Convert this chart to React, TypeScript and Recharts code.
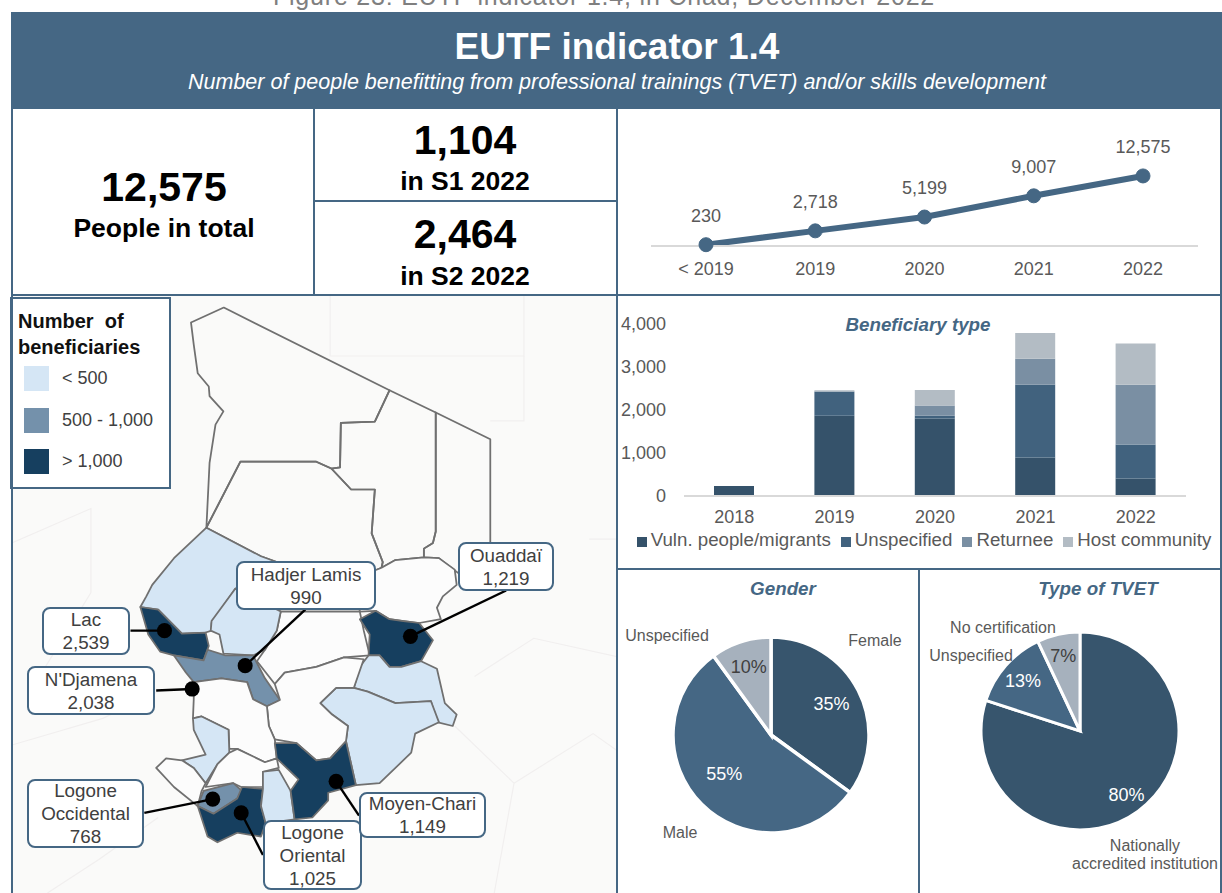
import React from "react";
import { LineChart, Line, BarChart, Bar, PieChart, Pie, Cell, XAxis, YAxis, LabelList, Legend } from "recharts";

const FONT = "'Liberation Sans', Arial, sans-serif";
const BLUE = "#456784";
const GREY = "#595959";

// cumulative line
const cumulativeYears = ["< 2019", "2019", "2020", "2021", "2022"];
const cumulativeValues = [230, 2718, 5199, 9007, 12575];

// stacked bars
const barYears = ["2018", "2019", "2020", "2021", "2022"];
const vulnerable = [235, 1867, 1804, 894, 408];
const unspecified = [0, 564, 60, 1694, 792];
const returnee = [0, 0, 238, 604, 1388];
const hostCommunity = [0, 29, 361, 596, 957];
const barTicks = [0, 1000, 2000, 3000, 4000];

// pies
const genderNames = ["Female", "Male", "Unspecified"];
const genderShares = [35, 55, 10];
const tvetNames = ["Nationally accredited institution", "Unspecified", "No certification"];
const tvetShares = [80, 13, 7];
const pieColors = ["#37556d", "#456784", "#a6b1bd"];
const pieLabelColors = ["#ffffff", "#ffffff", "#404040"];

// map legend
const mapBins = ["< 500", "500 - 1,000", "> 1,000"];
const LIGHT = "#d5e6f5";
const MID = "#7491ab";
const DARK = "#163f5f";
const PALE = "#fcfcfc";
const mapBinColors = [LIGHT, MID, DARK];

const lineData = cumulativeYears.map((year, i) => ({ year, value: cumulativeValues[i] }));
const barData = barYears.map((year, i) => ({
  year,
  vulnerable: vulnerable[i],
  unspecified: unspecified[i],
  returnee: returnee[i],
  hostCommunity: hostCommunity[i],
}));
const genderData = genderNames.map((name, i) => ({ name, value: genderShares[i] }));
const tvetData = tvetNames.map((name, i) => ({ name, value: tvetShares[i] }));

// Chad regions, drawn in a 1568-unit box scaled onto the map panel
const regions: { fill: string; d: string }[] = [
  { fill: "none", d: "566,33 985,250 948,332 862,335 860,452 838,455 800,437 608,437 522,610 530,440 545,340 565,305 530,265 528,240 500,205 490,130 483,72" },
  { fill: "none", d: "985,250 1102,308 1102,620 1095,650 1072,665 1072,688 1000,695 965,715 968,700 940,625 948,510 888,510 838,455 860,452 862,335 948,332" },
  { fill: "none", d: "1102,308 1240,378 1240,650 1200,690 1160,730 1110,690 1072,688 1072,665 1095,650 1102,620" },
  { fill: "none", d: "522,610 608,437 800,437 838,455 888,510 948,510 940,625 968,700 965,715 905,740 910,830 710,830 595,770 700,700 660,685" },
  { fill: PALE, d: "710,830 910,830 920,880 935,945 870,950 800,975 720,990 695,1020 650,960 670,930 700,880" },
  { fill: LIGHT, d: "522,610 660,685 700,700 595,770 535,860 535,880 520,885 460,888 400,825 355,818 370,790 385,760 440,690" },
  { fill: LIGHT, d: "595,770 710,830 700,880 670,930 640,945 565,940 555,890 533,880 535,855" },
  { fill: DARK, d: "355,818 400,825 460,888 520,885 528,920 515,958 440,945 405,935 375,890" },
  { fill: MID, d: "440,945 515,958 525,930 570,945 640,945 670,1005 708,1062 675,1078 640,1060 625,1015 560,1005 490,1015 470,990" },
  { fill: PALE, d: "965,715 1000,695 1072,688 1110,690 1150,720 1155,760 1120,790 1105,820 1115,850 1060,860 985,850 950,828 910,830 905,740" },
  { fill: DARK, d: "910,850 950,828 985,850 1020,855 1060,860 1095,905 1065,960 1015,975 985,975 960,945 932,945 935,890" },
  { fill: LIGHT, d: "932,945 960,945 985,975 1015,975 1065,960 1105,980 1125,1070 1155,1100 1145,1130 1105,1120 1090,1065 1000,1070 930,1040 895,1030 910,975" },
  { fill: LIGHT, d: "810,1070 850,1030 895,1030 930,1040 1000,1070 1090,1065 1110,1120 1050,1150 1040,1200 960,1280 900,1285 875,1170 880,1130 840,1100" },
  { fill: PALE, d: "695,1020 720,990 800,975 870,950 920,955 895,1030 850,1030 810,1070 840,1100 880,1130 875,1170 835,1215 800,1220 750,1175 695,1165 680,1130 675,1078 708,1062" },
  { fill: PALE, d: "490,1015 560,1005 625,1015 640,1060 675,1078 680,1130 695,1165 700,1215 670,1225 600,1190 580,1190 578,1140 510,1105 488,1110 490,1060" },
  { fill: LIGHT, d: "510,1105 578,1140 580,1200 550,1230 520,1280 490,1240 460,1220 520,1205 490,1140 488,1110" },
  { fill: PALE, d: "395,1240 420,1215 460,1220 490,1240 520,1280 510,1300 500,1340 440,1290" },
  { fill: PALE, d: "580,1200 600,1190 670,1225 700,1215 705,1240 665,1250 665,1290 610,1290 590,1280 520,1290 550,1230" },
  { fill: MID, d: "515,1300 590,1280 612,1300 600,1320 540,1360 500,1340" },
  { fill: DARK, d: "500,1340 540,1360 600,1320 612,1290 665,1295 660,1340 672,1385 660,1420 600,1410 550,1435 525,1420" },
  { fill: LIGHT, d: "665,1250 705,1245 735,1300 745,1375 672,1385 660,1340 665,1295" },
  { fill: DARK, d: "695,1175 750,1175 800,1220 835,1215 875,1170 900,1285 830,1305 830,1325 790,1370 745,1375 735,1300 755,1270 700,1215" },
];

// faint neighbouring borders on the base map
const baseLines = [
  "835,0 835,160 1325,160 1325,0",
  "1240,330 1325,330 1325,160",
  "30,650 230,560 230,780 100,1000",
  "30,1180 260,1110 400,1040",
  "400,1370 250,1480 120,1568",
  "1490,640 1568,640",
  "1200,1000 1350,900 1568,950",
  "1150,1130 1300,1280 1250,1568",
  "1300,1280 1500,1150 1568,1200",
];

// callouts: box in page pixels, dot and leader end in the map's 1568 box
const callouts = [
  { lines: ["Lac", "2,539"], left: 42, top: 607, width: 88, height: 48, dot: [416, 880], end: [330, 880] },
  { lines: ["N'Djamena", "2,038"], left: 27, top: 666, width: 128, height: 49, dot: [486, 1033], end: [395, 1037] },
  { lines: ["Hadjer Lamis", "990"], left: 236, top: 561, width: 140, height: 49, dot: [620, 972], end: [772, 825] },
  { lines: ["Ouaddaï", "1,219"], left: 458, top: 542, width: 96, height: 49, dot: [1038, 895], end: [1280, 775] },
  { lines: ["Logone", "Occidental", "768"], left: 27, top: 779, width: 117, height: 69, dot: [538, 1322], end: [365, 1358] },
  { lines: ["Logone", "Oriental", "1,025"], left: 263, top: 820, width: 99, height: 70, dot: [610, 1358], end: [665, 1468] },
  { lines: ["Moyen-Chari", "1,149"], left: 359, top: 792, width: 127, height: 46, dot: [850, 1275], end: [908, 1365] },
];

const Txt = ({ x, y, size = 18, color = GREY, weight = 400, italic = false, children }: any) => (
  <div
    style={{
      position: "absolute",
      left: x - 600,
      top: y - size,
      width: 1200,
      height: size * 2,
      lineHeight: `${size * 2}px`,
      textAlign: "center",
      fontSize: size,
      color,
      fontWeight: weight,
      fontStyle: italic ? "italic" : "normal",
      whiteSpace: "nowrap",
    }}
  >
    {children}
  </div>
);

const Rule = ({ left, top, width, height }: any) => (
  <div style={{ position: "absolute", left, top, width, height, background: BLUE }} />
);

// percentage inside a slice, radius read per slice from the reference
const pieLabel = (radii: number[], nudgeY: number[] = [0, 0, 0]) => (props: any) => {
  const { cx, cy, midAngle, index, value } = props;
  const a = (midAngle * Math.PI) / 180;
  return (
    <text
      x={cx + radii[index] * Math.cos(a)}
      y={cy - radii[index] * Math.sin(a) + nudgeY[index]}
      fill={pieLabelColors[index]}
      fontSize={18}
      fontFamily={FONT}
      textAnchor="middle"
      dominantBaseline="central"
    >
      {value}%
    </text>
  );
};

export default function App() {
  return (
    <div style={{ position: "absolute", left: 0, top: 0, width: 1222, height: 893, overflow: "hidden", background: "#fff", fontFamily: FONT }}>
      <Txt x={604} y={-4} size={25} color="#7f7f7f">
        <span style={{ letterSpacing: 0.8 }}>Figure 23: EUTF indicator 1.4, in Chad, December 2022</span>
      </Txt>

      {/* header band */}
      <div style={{ position: "absolute", left: 11, top: 12, width: 1211, height: 97, background: BLUE }} />
      <Txt x={617} y={47} size={37} color="#fff" weight={700}>EUTF indicator 1.4</Txt>
      <Txt x={617} y={82} size={21.5} color="#fff" italic>Number of people benefitting from professional trainings (TVET) and/or skills development</Txt>

      {/* key figures */}
      <Txt x={164} y={187} size={41} color="#000" weight={700}>12,575</Txt>
      <Txt x={164} y={228} size={26.5} color="#000" weight={700}>People in total</Txt>
      <Txt x={465} y={140} size={41} color="#000" weight={700}>1,104</Txt>
      <Txt x={465} y={181} size={26.5} color="#000" weight={700}>in S1 2022</Txt>
      <Txt x={465} y={234} size={41} color="#000" weight={700}>2,464</Txt>
      <Txt x={465} y={276} size={26.5} color="#000" weight={700}>in S2 2022</Txt>

      {/* map */}
      <svg width={606} height={598} style={{ position: "absolute", left: 12, top: 295, background: "#fafaf9" }} viewBox="0 0 606 598">
        <g transform="translate(-12,0) scale(0.3954,0.3814)">
          {baseLines.map((pts, i) => (
            <polyline key={i} points={pts} fill="none" stroke="#f1efef" strokeWidth={3} />
          ))}
          {regions.map((r, i) => (
            <polygon key={i} points={r.d} fill={r.fill} stroke="#707070" strokeWidth={4.5} strokeLinejoin="round" />
          ))}
          {callouts.map((c) => (
            <g key={c.lines[0] + c.lines[1]}>
              <line x1={c.dot[0]} y1={c.dot[1]} x2={c.end[0]} y2={c.end[1]} stroke="#000" strokeWidth={6} />
              <ellipse cx={c.dot[0]} cy={c.dot[1]} rx={19} ry={20} fill="#000" />
            </g>
          ))}
        </g>
      </svg>
      {callouts.map((c) => (
        <div
          key={c.lines[0] + c.lines[1]}
          style={{
            position: "absolute",
            left: c.left,
            top: c.top,
            width: c.width,
            height: c.height,
            boxSizing: "border-box",
            background: "#fff",
            border: `2px solid ${BLUE}`,
            borderRadius: 8,
            display: "flex",
            flexDirection: "column",
            justifyContent: "center",
            alignItems: "center",
            fontSize: 18.8,
            lineHeight: "23px",
            color: "#404040",
          }}
        >
          {c.lines.map((l) => (
            <div key={l}>{l}</div>
          ))}
        </div>
      ))}

      {/* map legend */}
      <div style={{ position: "absolute", left: 10, top: 297, width: 161, height: 192, boxSizing: "border-box", background: "#fff", border: `2px solid ${BLUE}` }} />
      <div style={{ position: "absolute", left: 18, top: 308, fontSize: 20, lineHeight: "26px", fontWeight: 700, color: "#111", whiteSpace: "pre" }}>
        {"Number  of"}
        <br />
        beneficiaries
      </div>
      {mapBins.map((bin, i) => (
        <React.Fragment key={bin}>
          <div style={{ position: "absolute", left: 24, top: 366 + i * 41.7, width: 25, height: 25, background: mapBinColors[i] }} />
          <div style={{ position: "absolute", left: 62, top: 366 + i * 41.7, lineHeight: "25px", fontSize: 18, color: "#404040" }}>{bin}</div>
        </React.Fragment>
      ))}

      {/* cumulative line */}
      <div style={{ position: "absolute", left: 651, top: 120 }}>
        <LineChart width={547} height={170} data={lineData} margin={{ top: 48, right: 0, bottom: 0, left: 0 }}>
          <XAxis
            dataKey="year"
            height={44}
            padding={{ left: 55, right: 55 }}
            tickLine={false}
            axisLine={{ stroke: "#d9d9d9", strokeWidth: 2 }}
            tick={{ fill: GREY, fontSize: 18, fontFamily: FONT }}
            tickMargin={10}
            interval={0}
          />
          <YAxis hide domain={[0, 14000]} />
          <Line
            dataKey="value"
            stroke={BLUE}
            strokeWidth={6}
            dot={{ r: 7, fill: BLUE, stroke: BLUE, strokeWidth: 1 }}
            isAnimationActive={false}
          >
            <LabelList
              dataKey="value"
              position="top"
              offset={23}
              fill={GREY}
              fontSize={18}
              fontFamily={FONT}
              formatter={(v: any) => Number(v).toLocaleString("en-US")}
            />
          </Line>
        </LineChart>
      </div>

      {/* beneficiary type */}
      <Txt x={918} y={325} size={18.8} color={BLUE} weight={700} italic>Beneficiary type</Txt>
      <div style={{ position: "absolute", left: 618, top: 310 }}>
        <BarChart width={602} height={250} data={barData} margin={{ top: 14, right: 34, bottom: 0, left: 0 }}>
          <XAxis
            dataKey="year"
            height={41}
            tickLine={false}
            axisLine={{ stroke: "#d9d9d9", strokeWidth: 2 }}
            tick={{ fill: GREY, fontSize: 18, fontFamily: FONT }}
            tickMargin={8}
            interval={0}
          />
          <YAxis
            width={66}
            domain={[0, 4000]}
            ticks={barTicks}
            axisLine={false}
            tickLine={false}
            tick={{ fill: GREY, fontSize: 18, fontFamily: FONT }}
            tickMargin={12}
            tickFormatter={(v: number) => v.toLocaleString("en-US")}
          />
          <Legend
            verticalAlign="bottom"
            iconType="square"
            iconSize={10}
            itemSorter={null}
            formatter={(v: string) => <span style={{ color: GREY, fontSize: 18.7 }}>{v}</span>}
            wrapperStyle={{ left: 10, width: 602, bottom: 8, fontFamily: FONT, lineHeight: "22px" }}
          />
          <Bar dataKey="vulnerable" name="Vuln. people/migrants" stackId="a" fill="#35526a" barSize={40} isAnimationActive={false} />
          <Bar dataKey="unspecified" name="Unspecified" stackId="a" fill="#41627e" barSize={40} isAnimationActive={false} />
          <Bar dataKey="returnee" name="Returnee" stackId="a" fill="#7a8fa3" barSize={40} isAnimationActive={false} />
          <Bar dataKey="hostCommunity" name="Host community" stackId="a" fill="#b3bcc4" barSize={40} isAnimationActive={false} />
        </BarChart>
      </div>

      {/* gender */}
      <Txt x={783} y={589} size={18.8} color={BLUE} weight={700} italic>Gender</Txt>
      <div style={{ position: "absolute", left: 620, top: 600 }}>
        <PieChart width={297} height={270} margin={{ top: 0, right: 0, bottom: 0, left: 0 }}>
          <Pie
            data={genderData}
            dataKey="value"
            cx={151}
            cy={135}
            outerRadius={98}
            startAngle={90}
            endAngle={-270}
            stroke="#fff"
            strokeWidth={3.5}
            labelLine={false}
            label={pieLabel([68, 66, 72], [0, -8, 0])}
            isAnimationActive={false}
          >
            {genderData.map((d, i) => (
              <Cell key={d.name} fill={pieColors[i]} />
            ))}
          </Pie>
        </PieChart>
      </div>
      <Txt x={875} y={641} size={16}>Female</Txt>
      <Txt x={667} y={636} size={16}>Unspecified</Txt>
      <Txt x={680} y={833} size={16}>Male</Txt>

      {/* type of TVET */}
      <Txt x={1098} y={589} size={18.8} color={BLUE} weight={700} italic>Type of TVET</Txt>
      <div style={{ position: "absolute", left: 925, top: 596 }}>
        <PieChart width={297} height={270} margin={{ top: 0, right: 0, bottom: 0, left: 0 }}>
          <Pie
            data={tvetData}
            dataKey="value"
            cx={155}
            cy={135}
            outerRadius={99}
            startAngle={90}
            endAngle={-270}
            stroke="#fff"
            strokeWidth={3}
            labelLine={false}
            label={pieLabel([79, 76, 77])}
            isAnimationActive={false}
          >
            {tvetData.map((d, i) => (
              <Cell key={d.name} fill={pieColors[i]} />
            ))}
          </Pie>
        </PieChart>
      </div>
      <Txt x={1003} y={628} size={16}>No certification</Txt>
      <Txt x={971} y={656} size={16}>Unspecified</Txt>
      <Txt x={1145} y={846} size={16}>Nationally</Txt>
      <Txt x={1145} y={864} size={16}>accredited institution</Txt>

      {/* panel rules */}
      <Rule left={11} top={108} width={2} height={187} />
      <Rule left={11} top={295} width={2} height={598} />
      <Rule left={313} top={108} width={2} height={187} />
      <Rule left={616} top={108} width={2} height={785} />
      <Rule left={918} top={568} width={2} height={325} />
      <Rule left={1220} top={108} width={2} height={785} />
      <Rule left={313} top={200} width={304} height={2} />
      <Rule left={11} top={294} width={1211} height={2} />
      <Rule left={616} top={568} width={606} height={2} />
    </div>
  );
}
